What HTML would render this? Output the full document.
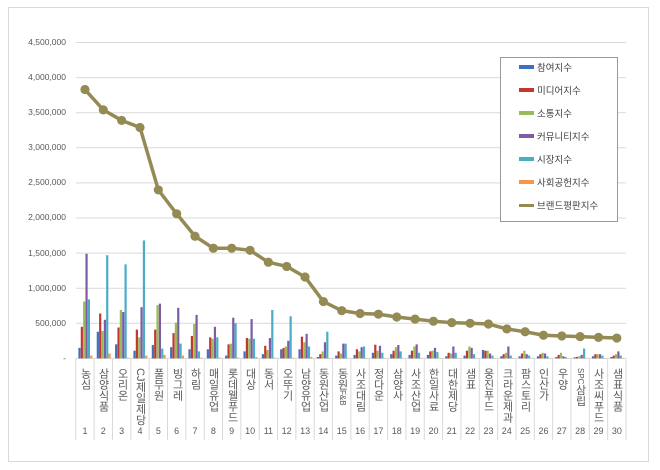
<!DOCTYPE html>
<html><head><meta charset="utf-8"><style>
body{margin:0;background:#fff;width:660px;height:470px;overflow:hidden;font-family:"Liberation Sans","Noto Sans CJK KR",sans-serif;}
#frame{position:absolute;left:8px;top:7px;width:641px;height:455px;border:1px solid #d9d9d9;box-sizing:border-box;}
.yl{position:absolute;right:594px;font-size:8.5px;color:#595959;text-align:right;width:70px;}
.cl{position:absolute;top:368px;width:18px;writing-mode:vertical-rl;text-orientation:upright;font-size:11px;line-height:18px;color:#595959;letter-spacing:0px;}
.cl.m{text-orientation:mixed;}
.cn{position:absolute;top:426px;width:18px;text-align:center;font-size:9px;color:#595959;}
#leg{position:absolute;left:500px;top:57px;width:118px;height:165px;border:1px solid #999;background:#fff;box-sizing:border-box;}
.li{position:absolute;left:18px;font-size:9.5px;color:#404040;height:12px;line-height:12px;}
.sw{display:inline-block;width:15px;height:4px;vertical-align:middle;margin-right:3px;position:relative;top:-1px;}
</style></head><body>
<div id="frame"></div>
<svg id="s" width="660" height="470" style="position:absolute;left:0;top:0"></svg>
<div class="yl" style="top:37px">4,500,000</div>
<div class="yl" style="top:72px">4,000,000</div>
<div class="yl" style="top:107px">3,500,000</div>
<div class="yl" style="top:142px">3,000,000</div>
<div class="yl" style="top:177px">2,500,000</div>
<div class="yl" style="top:212px">2,000,000</div>
<div class="yl" style="top:248px">1,500,000</div>
<div class="yl" style="top:283px">1,000,000</div>
<div class="yl" style="top:318px">500,000</div>
<div class="yl" style="top:353px">-</div>
<div id="labels"></div>
<div id="leg">
<div class="li" style="top:5px"><span class="sw" style="background:#3f6fbf"></span>참여지수</div>
<div class="li" style="top:28px"><span class="sw" style="background:#c0392f"></span>미디어지수</div>
<div class="li" style="top:51px"><span class="sw" style="background:#9bbb59"></span>소통지수</div>
<div class="li" style="top:74px"><span class="sw" style="background:#7d5ba6"></span>커뮤니티지수</div>
<div class="li" style="top:97px"><span class="sw" style="background:#4bacc6"></span>시장지수</div>
<div class="li" style="top:120px"><span class="sw" style="background:#f79646"></span>사회공헌지수</div>
<div class="li" style="top:143px"><span class="sw" style="background:#948a54;height:3px"></span>브랜드평판지수</div>
</div>
<div id="cl">
<div class="cl" style="left:76px">농심</div>
<div class="cl" style="left:94px">삼양식품</div>
<div class="cl" style="left:113px">오리온</div>
<div class="cl m" style="left:131px">CJ제일제당</div>
<div class="cl" style="left:149px">풀무원</div>
<div class="cl" style="left:168px">빙그레</div>
<div class="cl" style="left:186px">하림</div>
<div class="cl" style="left:204px">매일유업</div>
<div class="cl" style="left:223px">롯데웰푸드</div>
<div class="cl" style="left:241px">대상</div>
<div class="cl" style="left:259px">동서</div>
<div class="cl" style="left:278px">오뚜기</div>
<div class="cl" style="left:296px">남양유업</div>
<div class="cl" style="left:314px">동원산업</div>
<div class="cl m" style="left:333px">동원<span style="font-size:8px">F&amp;B</span></div>
<div class="cl" style="left:351px">사조대림</div>
<div class="cl" style="left:369px">정다운</div>
<div class="cl" style="left:388px">삼양사</div>
<div class="cl" style="left:406px">사조산업</div>
<div class="cl" style="left:424px">한일사료</div>
<div class="cl" style="left:443px">대한제당</div>
<div class="cl" style="left:461px">샘표</div>
<div class="cl" style="left:479px">웅진푸드</div>
<div class="cl" style="left:498px">크라운제과</div>
<div class="cl" style="left:516px">팜스토리</div>
<div class="cl" style="left:534px">인산가</div>
<div class="cl" style="left:553px">우양</div>
<div class="cl m" style="left:571px"><span style="font-size:8px">SPC</span>삼립</div>
<div class="cl" style="left:589px">사조씨푸드</div>
<div class="cl" style="left:608px">샘표식품</div>
</div>
<div id="nums"></div>
<script>
var s=document.getElementById('s'),h='';
var L=75.8,W=18.34,B=358.4,K=35.1/500;
function Y(v){return B-v*K;}
for(var i=0;i<=9;i++){var y=B-i*35.1;h+='<line x1="'+L+'" x2="626" y1="'+y+'" y2="'+y+'" stroke="#d9d9d9" stroke-width="1"/>';}
for(var i=0;i<=30;i++){var x=L+i*W;h+='<line x1="'+x+'" x2="'+x+'" y1="'+B+'" y2="440" stroke="#d9d9d9" stroke-width="1"/>';}
var d=[[150,450,810,1490,840,40],[380,640,390,550,1470,70],[200,440,690,660,1340,10],[110,410,300,730,1680,40],[190,410,760,780,140,50],[160,360,510,720,210,40],[130,320,490,620,100,10],[130,300,280,450,300,10],[40,200,210,580,500,10],[100,290,280,560,280,20],[60,180,120,290,690,10],[130,150,170,250,600,10],[130,310,230,350,170,20],[20,60,100,230,380,5],[40,100,70,210,210,5],[50,130,100,160,170,5],[80,195,110,180,80,5],[60,110,160,190,100,5],[50,110,170,200,80,5],[50,100,110,150,90,5],[30,80,70,170,80,5],[40,110,170,150,60,5],[120,110,110,70,40,5],[30,60,80,170,40,5],[30,70,110,60,40,5],[30,60,80,70,30,5],[20,50,80,30,20,5],[15,20,30,50,140,5],[30,60,60,60,40,5],[20,40,60,100,40,5]];
var c=['#3f6fbf','#c0392f','#9bbb59','#7d5ba6','#4bacc6','#f79646'];
for(var i=0;i<30;i++){for(var j=0;j<6;j++){var x=L+i*W+2.6+j*2.35;var v=d[i][j];h+='<rect x="'+x.toFixed(2)+'" y="'+Y(v).toFixed(2)+'" width="2.2" height="'+(v*K).toFixed(2)+'" fill="'+c[j]+'"/>';}}
var ln=[3830,3540,3390,3290,2400,2060,1740,1570,1570,1540,1370,1310,1160,810,680,640,630,590,560,530,510,500,490,420,380,330,320,310,300,290];
var p=ln.map(function(v,i){return (L+(i+.5)*W).toFixed(2)+','+Y(v).toFixed(2)}).join(' ');
h+='<polyline points="'+p+'" fill="none" stroke="#948a54" stroke-width="3.5" stroke-linejoin="round"/>';
ln.forEach(function(v,i){h+='<circle cx="'+(L+(i+.5)*W)+'" cy="'+Y(v)+'" r="4.6" fill="#948a54"/>';});
h+='<line x1="518" x2="533" y1="205" y2="205" stroke="#948a54" stroke-width="2"/><circle cx="525.5" cy="205" r="2" fill="#948a54"/>';
s.innerHTML=h;
var n='';for(var i=0;i<30;i++){n+='<div class="cn" style="left:'+(L+i*W+0.2).toFixed(1)+'px">'+(i+1)+'</div>';}
document.getElementById('nums').innerHTML=n;
</script>
</body></html>
